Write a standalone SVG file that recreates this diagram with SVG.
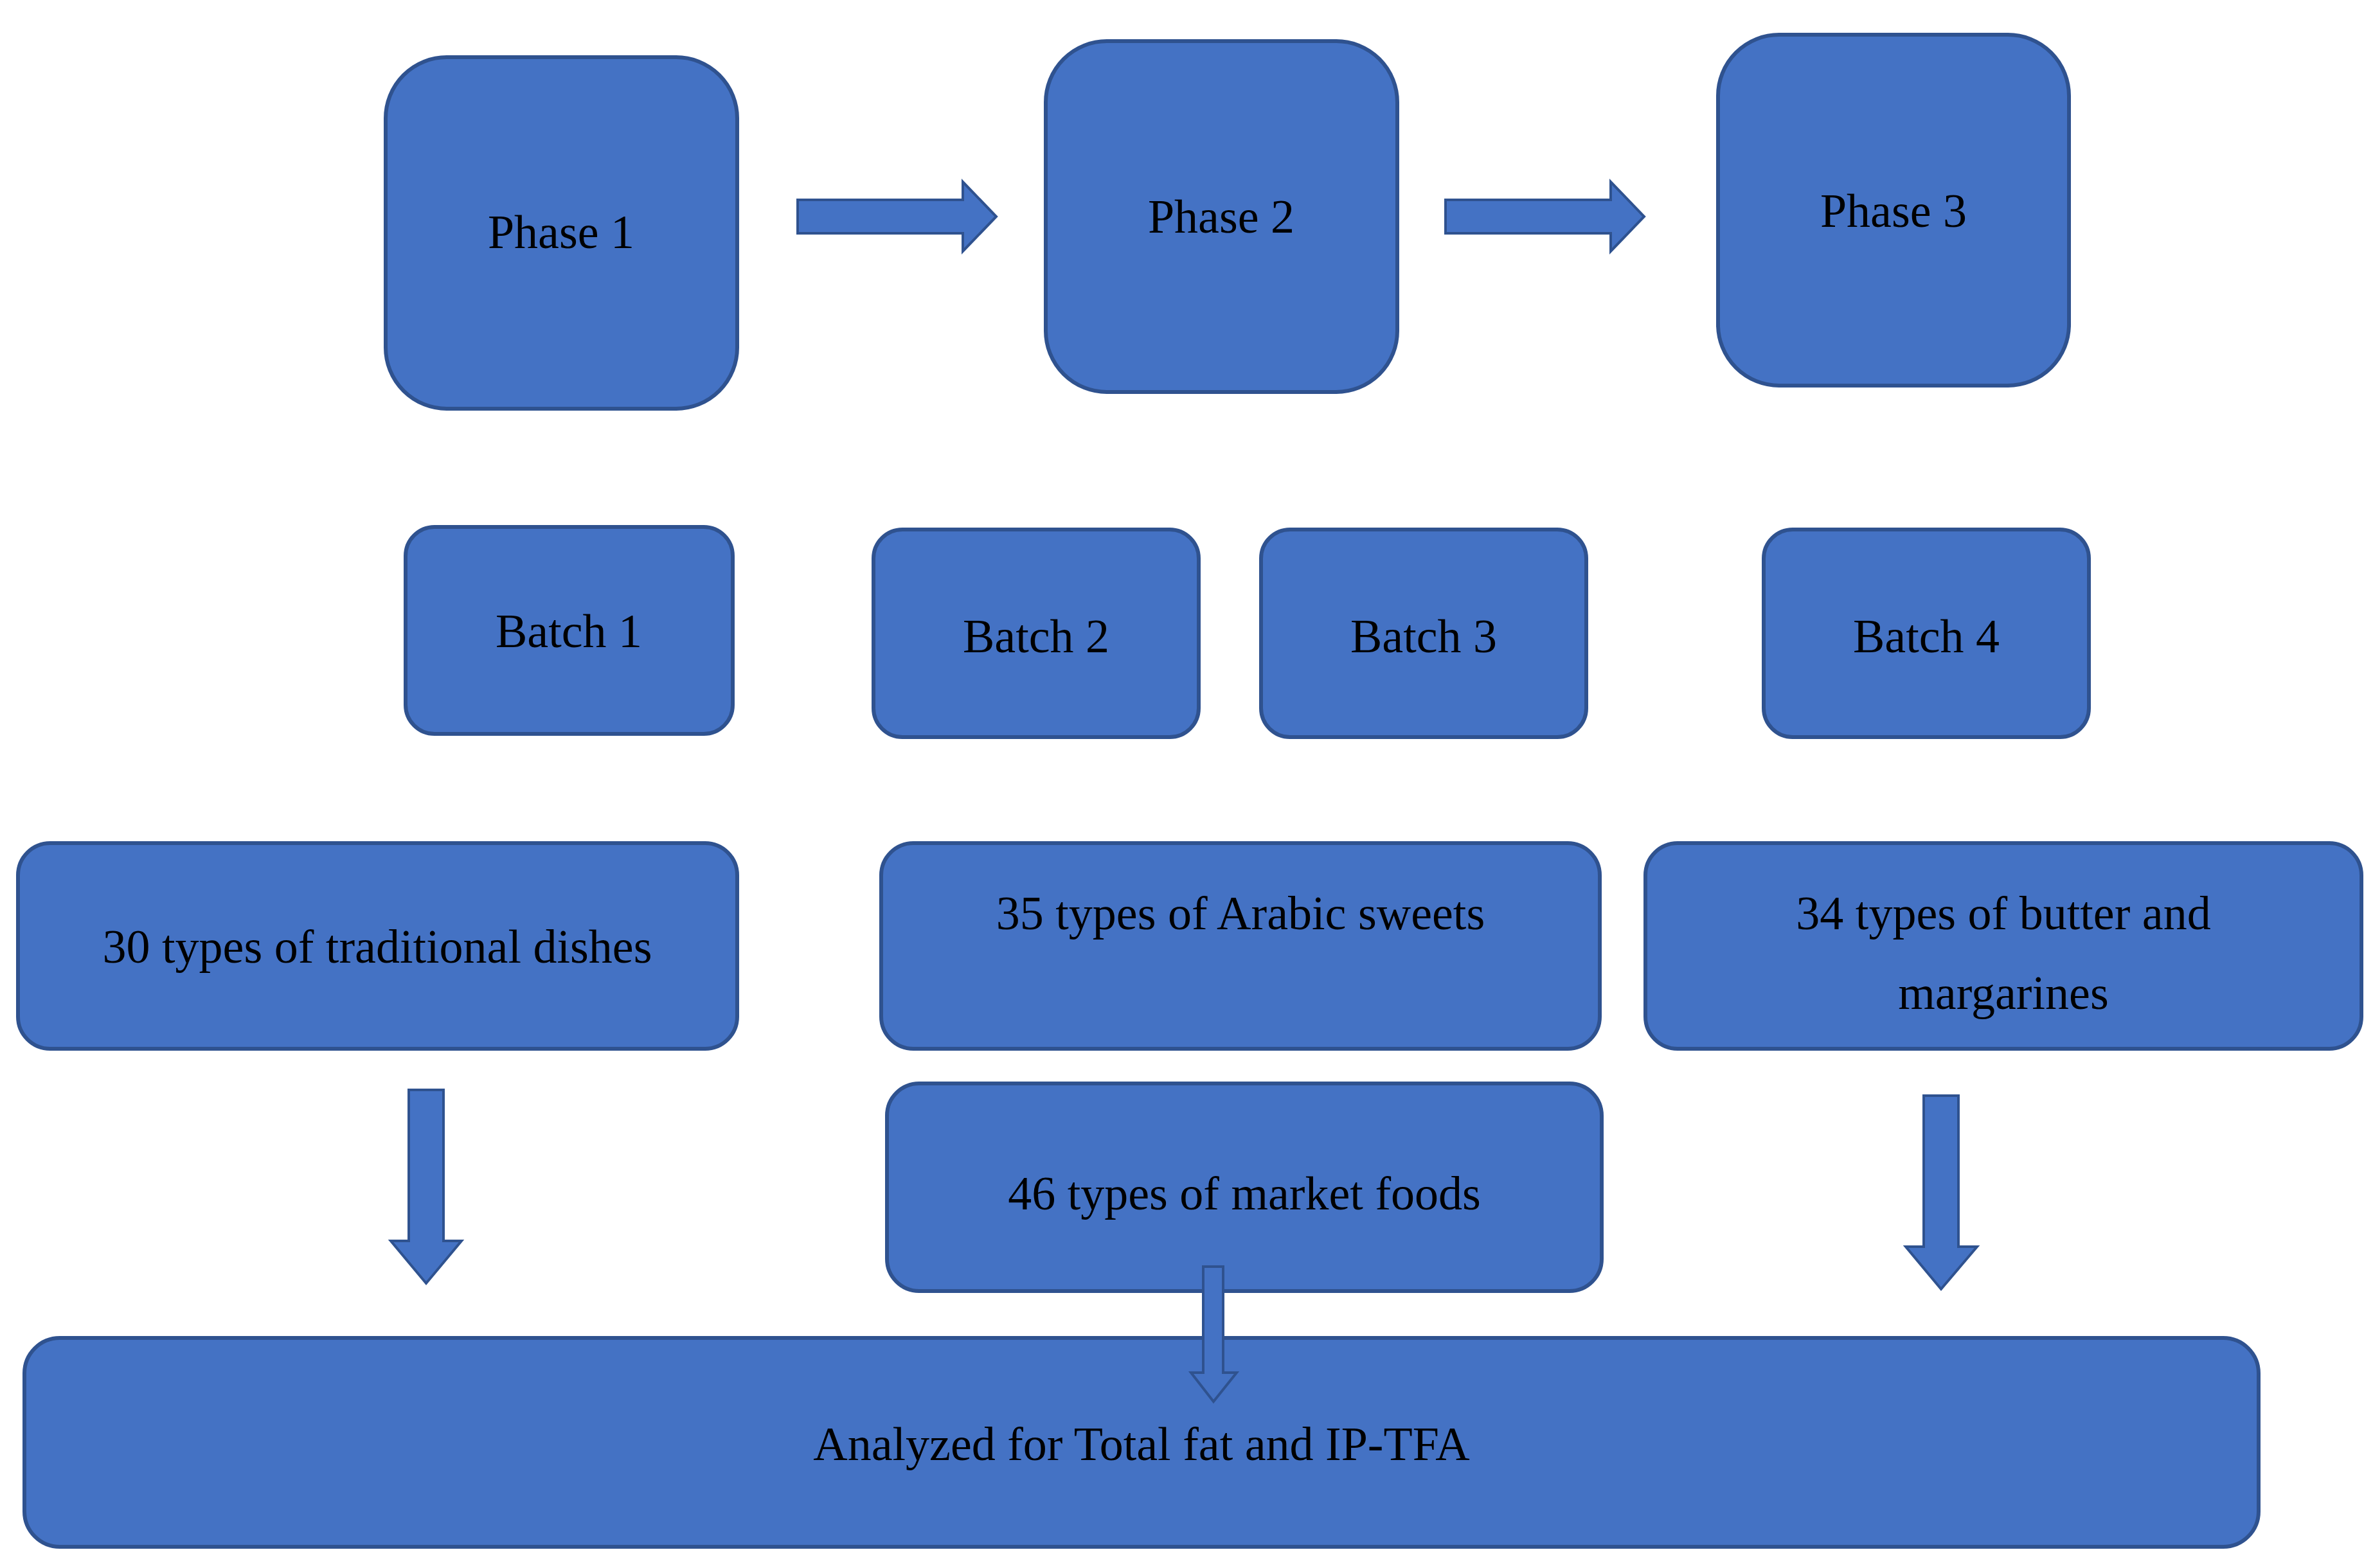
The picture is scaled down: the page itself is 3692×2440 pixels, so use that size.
<svg xmlns="http://www.w3.org/2000/svg" width="3692" height="2440" viewBox="0 0 3692 2440">
<style>
.b{fill:#4472C4;stroke:#2F528F;stroke-width:6}
.t{font-family:"Liberation Serif","DejaVu Serif",serif;font-size:74px;fill:#000;text-anchor:middle}
.a{fill:#4472C4;stroke:#2F528F;stroke-width:4}
.o{fill:#4472C4;stroke:#2F528F;stroke-width:4}
</style>
<rect width="3692" height="2440" fill="#fff"/>
<g id="phase1"><rect class="b" x="600" y="89" width="547" height="547" rx="95"/><text class="t" x="873" y="386">Phase 1</text></g>
<g id="phase2"><rect class="b" x="1627" y="64" width="547" height="546" rx="95"/><text class="t" x="1900" y="362">Phase 2</text></g>
<g id="phase3"><rect class="b" x="2673" y="54" width="546" height="546" rx="95"/><text class="t" x="2946" y="353">Phase 3</text></g>
<g id="batch1"><rect class="b" x="631" y="820" width="509" height="322" rx="45"/><text class="t" x="885" y="1007">Batch 1</text></g>
<g id="batch2"><rect class="b" x="1359" y="824" width="506" height="323" rx="45"/><text class="t" x="1612" y="1015">Batch 2</text></g>
<g id="batch3"><rect class="b" x="1962" y="824" width="506" height="323" rx="45"/><text class="t" x="2215" y="1015">Batch 3</text></g>
<g id="batch4"><rect class="b" x="2744" y="824" width="506" height="323" rx="45"/><text class="t" x="2997" y="1015">Batch 4</text></g>
<g id="dishes"><rect class="b" x="28" y="1312" width="1119" height="320" rx="50"/><text class="t" x="587" y="1498">30 types of traditional dishes</text></g>
<g id="sweets"><rect class="b" x="1371" y="1312" width="1118" height="320" rx="50"/><text class="t" x="1930" y="1446">35 types of Arabic sweets</text></g>
<g id="butter"><rect class="b" x="2560" y="1312" width="1114" height="320" rx="50"/><text class="t" x="3117" y="1446">34 types of butter and</text><text class="t" x="3117" y="1570">margarines</text></g>
<g id="market"><rect class="b" x="1380" y="1686" width="1112" height="323" rx="50"/><text class="t" x="1936" y="1882">46 types of market foods</text></g>
<g id="analyzed"><rect class="b" x="38" y="2082" width="3476" height="325" rx="55"/><text class="t" x="1776" y="2272">Analyzed for Total fat and IP-TFA</text></g>
<g id="connectors">
<polygon class="a" points="1241,311 1498,311 1498,283 1550,337 1498,391 1498,363 1241,363"/>
<polygon class="a" points="2249,311 2506,311 2506,283 2558,337 2506,391 2506,363 2249,363"/>
<polygon class="a" points="636,1696 690,1696 690,1931 718,1931 663,1997 608,1931 636,1931"/>
<polygon class="a" points="2993,1705 3047,1705 3047,1940 3076,1940 3020,2006 2965,1940 2993,1940"/>
<polygon class="o" points="1872,1971 1903,1971 1903,2136 1924,2136 1888,2181 1853,2136 1872,2136"/>
</g>
</svg>
